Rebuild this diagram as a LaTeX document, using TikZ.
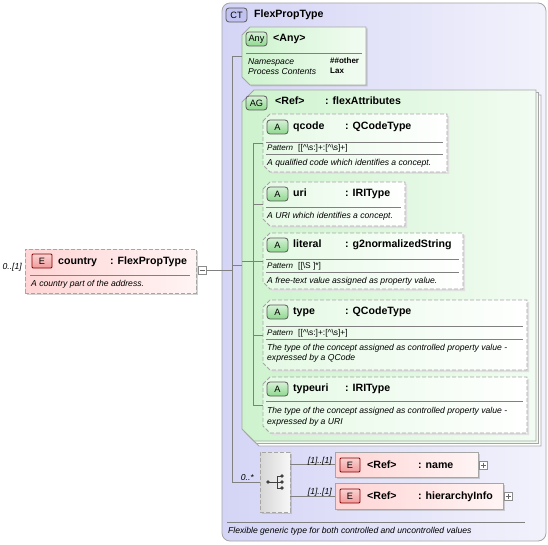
\documentclass[tikz,border=0pt]{standalone}
\usepackage{fontspec}
\setmainfont{Liberation Sans}
\usetikzlibrary{shadows}
\usetikzlibrary{positioning}
\definecolor{ctfill}{HTML}{D4D4F6}
\definecolor{ctbadge}{HTML}{C2C2F0}
\definecolor{grnfill}{HTML}{CDF3CD}
\definecolor{attfill}{HTML}{E4F9E4}
\definecolor{badgegrn}{HTML}{8ED88E}
\definecolor{elfill}{HTML}{FFD4D4}
\definecolor{badgered}{HTML}{F29A9A}
\definecolor{frame}{HTML}{A6A6A6}
\definecolor{lgray}{HTML}{808080}
\newcommand{\nmfont}{\fontsize{10.6}{12}\selectfont\bfseries}
\newcommand{\docfont}{\fontsize{8.6}{10}\selectfont\itshape}
\newcommand{\smfont}{\fontsize{8.4}{9}\selectfont}
% frame with the two left corners cut off, drawn round a named node
\newcommand{\cutframe}[3]{\path[#3] ([yshift=-#2]#1.north west) -- ([xshift=#2]#1.north west)
  -- (#1.north east) -- (#1.south east) -- ([xshift=#2]#1.south west)
  -- ([yshift=#2]#1.south west) -- cycle;}
\tikzset{
  area/.style={anchor=north west, inner sep=0pt, outer sep=0pt},
  box/.style={area, draw=frame, line width=.8pt},
  dashbox/.style={box, dash pattern=on 4pt off 2pt},
  boxshadow/.style={drop shadow={shadow xshift=1.5pt, shadow yshift=-1.5pt, fill=black!35, opacity=.5}},
  ctbox/.style={box, rounded corners=8pt, left color=ctfill, right color=ctfill!30},
  elbox/.style={box, left color=elfill, right color=elfill!25, boxshadow},
  attshadow/.style={draw=none, fill=black!12},
  attframe/.style={draw=frame, line width=.8pt, dash pattern=on 4pt off 2pt,
    left color=attfill, right color=white},
  grpframe/.style={draw=frame, line width=.8pt, left color=grnfill, right color=grnfill!25},
  layer/.style={draw=frame, line width=.8pt, fill=#1},
  badge/.style={box, draw=black!65, rounded corners=3pt, font=\fontsize{9.2}{10}\selectfont},
  badgeA/.style={badge, minimum width=21pt, minimum height=14pt, top color=badgegrn!35, bottom color=badgegrn},
  badgeE/.style={badge, minimum width=20pt, minimum height=14pt, top color=badgered!45,
    bottom color=badgered, draw=black!50!red, rounded corners=1pt},
  txt/.style={anchor=west, inner sep=0pt},
  lbl/.style={txt, font=\nmfont, text height=7.5pt, text depth=0pt},
  doc/.style={txt, font=\docfont, text height=6.2pt, text depth=0pt},
  sml/.style={txt, font=\smfont, text height=5.8pt, text depth=0pt},
  occ/.style={doc},
  sep/.style={draw=lgray, line width=.7pt},
  conn/.style={draw=lgray, line width=.8pt},
  pm/.style={box, minimum size=8pt, fill=white, draw=black!45},
}

\begin{document}
\begin{tikzpicture}[x=1pt,y=-1pt]
\useasboundingbox[fill=white] (0,0) rectangle (548,545);

% complex type
\node[ctbox, minimum width=324pt, minimum height=538pt] (ct) at (222,3) {};
\node[badge, fill=ctbadge, minimum width=21pt, minimum height=14pt] (ctbadge) at (226,8) {CT};
\node[lbl] (cttitle) at (254,14) {FlexPropType};
\draw[sep] (227,522) -- (525,522);
\node[doc] (ctdoc) at (228,530) {Flexible generic type for both controlled and uncontrolled values};

% element country
\node[elbox, dashbox, minimum width=171pt, minimum height=44pt] (country) at (25,249) {};
\node[badgeE] (countryE) at (32,254) {E};
\node[lbl] (countryname) at (58,261) {country};
\node[lbl] (countrytype) at (110,261) {: FlexPropType};
\draw[sep] (30,275) -- (190,275);
\node[doc] (countrydoc) at (31,283) {A country part of the address.};
\node[occ, left=3pt of country.west, yshift=5pt] (countryocc) {0..[1]};
\node[pm] (minus) at (198,266) {};
\draw[black!60] (minus.center) +(-2.5,0) -- +(2.5,0);

% any
\node[area, minimum width=124pt, minimum height=58pt] (any) at (242,27) {};
\cutframe{any}{8pt}{grpframe, boxshadow}
\node[badgeA] (anybadge) at (246,32) {Any};
\node[lbl] (anyname) at (273,38) {<Any>};
\draw[sep] (246,53) -- (362,53);
\node[doc] (anyns) at (248,61) {Namespace};
\node[doc] (anypc) at (248,71) {Process Contents};
\node[sml, font=\fontsize{8}{9}\selectfont\bfseries] (anynsv) at (330,61) {\#\#other};
\node[sml, font=\fontsize{8}{9}\selectfont\bfseries] (anypcv) at (330,71) {Lax};

% attribute group, with two stacked layers behind it
\node[area, minimum width=294pt, minimum height=351pt] (agc) at (247,95) {};
\node[area, minimum width=294pt, minimum height=351pt] (agb) at (244.5,92.5) {};
\node[area, minimum width=294pt, minimum height=351pt] (ag) at (242,90) {};
\cutframe{agc}{12pt}{layer=white}
\cutframe{agb}{12pt}{layer=grnfill!30}
\cutframe{ag}{12pt}{grpframe}
\node[badgeA] (agbadge) at (246,96) {AG};
\node[lbl] (agref) at (275,101) {<Ref>};
\node[lbl] (agname) at (325,101) {: flexAttributes};

% qcode
\node[area, minimum width=184pt, minimum height=58pt] (qcode) at (263,114) {};
\node[area, minimum width=184pt, minimum height=58pt] (qcodesh) at (265,116) {};
\cutframe{qcodesh}{7pt}{attshadow}
\cutframe{qcode}{7pt}{attframe}
\node[badgeA] (qcodeA) at (267,120) {A};
\node[lbl] (qcodename) at (293,126) {qcode};
\node[lbl] (qcodetype) at (345,126) {: QCodeType};
\draw[sep] (266,142) -- (443,142);
\node[sml, font=\fontsize{8}{9}\selectfont\itshape] (qcodepat) at (267,148) {Pattern};
\node[sml] (qcodepatv) at (298,148) {[[\textasciicircum\textbackslash s:]+:[\textasciicircum\textbackslash s]+]};
\draw[sep] (266,154) -- (443,154);
\node[doc] (qcodedoc) at (267,162) {A qualified code which identifies a concept.};

% uri
\node[area, minimum width=142pt, minimum height=44pt] (uri) at (263,182) {};
\node[area, minimum width=142pt, minimum height=44pt] (urish) at (265,184) {};
\cutframe{urish}{7pt}{attshadow}
\cutframe{uri}{7pt}{attframe}
\node[badgeA] (uriA) at (267,187) {A};
\node[lbl] (uriname) at (293,193) {uri};
\node[lbl] (uritype) at (345,193) {: IRIType};
\draw[sep] (266,207) -- (401,207);
\node[doc] (uridoc) at (267,215) {A URI which identifies a concept.};

% literal
\node[area, minimum width=200pt, minimum height=56pt] (literal) at (263,233) {};
\node[area, minimum width=200pt, minimum height=56pt] (literalsh) at (265,235) {};
\cutframe{literalsh}{7pt}{attshadow}
\cutframe{literal}{7pt}{attframe}
\node[badgeA] (literalA) at (267,238) {A};
\node[lbl] (literalname) at (293,244) {literal};
\node[lbl] (literaltype) at (345,244) {: g2normalizedString};
\draw[sep] (266,259) -- (459,259);
\node[sml, font=\fontsize{8}{9}\selectfont\itshape] (literalpat) at (267,266) {Pattern};
\node[sml] (literalpatv) at (298,266) {[[\textbackslash S ]*]};
\draw[sep] (266,272) -- (459,272);
\node[doc] (literaldoc) at (267,280) {A free-text value assigned as property value.};

% type
\node[area, minimum width=264pt, minimum height=70pt] (type) at (263,300) {};
\node[area, minimum width=264pt, minimum height=70pt] (typesh) at (265,302) {};
\cutframe{typesh}{7pt}{attshadow}
\cutframe{type}{7pt}{attframe}
\node[badgeA] (typeA) at (267,305) {A};
\node[lbl] (typename) at (293,311) {type};
\node[lbl] (typetype) at (345,311) {: QCodeType};
\draw[sep] (266,326) -- (523,326);
\node[sml, font=\fontsize{8}{9}\selectfont\itshape] (typepat) at (267,333) {Pattern};
\node[sml] (typepatv) at (298,333) {[[\textasciicircum\textbackslash s:]+:[\textasciicircum\textbackslash s]+]};
\draw[sep] (266,339) -- (523,339);
\node[doc] (typedoc) at (267,347) {The type of the concept assigned as controlled property value -};
\node[doc] (typedocb) at (267,357) {expressed by a QCode};

% typeuri
\node[area, minimum width=264pt, minimum height=56pt] (typeuri) at (263,377) {};
\node[area, minimum width=264pt, minimum height=56pt] (typeurish) at (265,379) {};
\cutframe{typeurish}{7pt}{attshadow}
\cutframe{typeuri}{7pt}{attframe}
\node[badgeA] (typeuriA) at (267,382) {A};
\node[lbl] (typeuriname) at (293,388) {typeuri};
\node[lbl] (typeuritype) at (345,388) {: IRIType};
\draw[sep] (266,401) -- (523,401);
\node[doc] (typeuridoc) at (267,410) {The type of the concept assigned as controlled property value -};
\node[doc] (typeuridocb) at (267,421) {expressed by a URI};

% sequence
\node[dashbox, minimum width=30pt, minimum height=60pt, left color=black!16, right color=black!3, boxshadow] (seq) at (260,452) {};
\draw[black!75, line width=.9pt] (seq.center) +(-7,0) -- +(2,0) +(2,-6) -- +(2,6)
  +(2,-6) -- +(7,-6) +(2,0) -- +(7,0) +(2,6) -- +(7,6);
\fill[black!75] (seq.center) +(-7,0) circle (1.9pt) +(7,-6) circle (1.9pt)
  +(7,0) circle (1.9pt) +(7,6) circle (1.9pt);

% name
\node[elbox, minimum width=143pt, minimum height=25pt] (name) at (335,452) {};
\node[badgeE] (nameE) at (340,458) {E};
\node[lbl] (nameref) at (367,465) {<Ref>};
\node[lbl] (nametype) at (418,465) {: name};
\node[pm] (nameplus) at (479,461) {};
\draw[black!60] (nameplus.center) +(-2.5,0) -- +(2.5,0) +(0,-2.5) -- +(0,2.5);

% hierarchyInfo
\node[elbox, minimum width=168pt, minimum height=26pt] (hier) at (335,483) {};
\node[badgeE] (hierE) at (340,489) {E};
\node[lbl] (hierref) at (367,496) {<Ref>};
\node[lbl] (hiertype) at (418,496) {: hierarchyInfo};
\node[pm] (hierplus) at (504,492) {};
\draw[black!60] (hierplus.center) +(-2.5,0) -- +(2.5,0) +(0,-2.5) -- +(0,2.5);

% connectors
\coordinate (spine) at (232,56);
\coordinate (ispine) at (253,145);
\draw[conn] (minus.east) -- (minus.east -| spine);
\draw[conn] (any.west) -- (spine) -- (spine |- seq.west) -- (seq.west);
\draw[conn] (spine |- ag.west) -- (ag.west);
\draw[conn] (ag.west |- literal.west) -- (literal.west);
\draw[conn] (ispine |- qcode.west) -- (ispine |- typeuri.west);
\draw[conn] (ispine |- qcode.west) -- (qcode.west);
\draw[conn] (ispine |- uri.west) -- (uri.west);
\draw[conn] (ispine |- type.west) -- (type.west);
\draw[conn] (ispine |- typeuri.west) -- (typeuri.west);
\draw[conn] (seq.east |- name.west) -- (name.west);
\draw[conn] (seq.east |- hier.west) -- (hier.west);
\node[occ, above left=1pt and 3pt of name.west] (nameocc) {[1]..[1]};
\node[occ, above left=1pt and 3pt of hier.west] (hierocc) {[1]..[1]};
\node[occ, above left=1pt and 6pt of seq.west] (seqocc) {0..*};
\end{tikzpicture}
\end{document}
